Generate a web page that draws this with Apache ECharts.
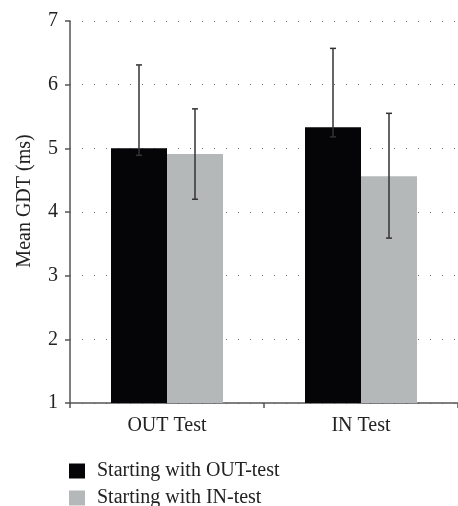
<!DOCTYPE html>
<html>
<head>
<meta charset="utf-8">
<script src="https://cdn.jsdelivr.net/npm/echarts@6/dist/echarts.min.js"></script>
<style>html,body{margin:0;padding:0;background:#fff;}#c{width:458px;height:506px;}</style>
</head>
<body>
<div id="c"></div>
<script>
var categories = ['OUT Test', 'IN Test'];
var seriesNames = ['Starting with OUT-test', 'Starting with IN-test'];
var outStartMean = [5.00, 5.33];
var outStartHigh = [6.31, 6.57];
var outStartLow = [4.89, 5.18];
var inStartMean = [4.91, 4.56];
var inStartHigh = [5.62, 5.55];
var inStartLow = [4.20, 3.59];
var yTicks = [1, 2, 3, 4, 5, 6, 7];

var FONT = 'Liberation Serif';
var colors = ['#050508', '#b4b8b8'];
var BAR_W = 56;

function errData(low, high, s) {
  return categories.map(function (c, i) { return [i, low[i], high[i], s]; });
}

function renderErr(params, api) {
  var idx = api.value(0);
  var s = api.value(3);
  var lo = api.coord([idx, api.value(1)]);
  var hi = api.coord([idx, api.value(2)]);
  var off = (s === 0 ? -1 : 1) * BAR_W / 2;
  var x = lo[0] + off;
  var cap = 3;
  var st = { stroke: '#333', lineWidth: 1.5 };
  return {
    type: 'group',
    children: [
      { type: 'line', shape: { x1: x, y1: hi[1], x2: x, y2: lo[1] }, style: st },
      { type: 'line', shape: { x1: x - cap, y1: hi[1], x2: x + cap, y2: hi[1] }, style: st },
      { type: 'line', shape: { x1: x - cap, y1: lo[1], x2: x + cap, y2: lo[1] }, style: st }
    ]
  };
}

function legendAt(name, top) {
  return {
    orient: 'vertical', left: 69, top: top, padding: 0,
    itemWidth: 16, itemHeight: 15,
    icon: 'rect',
    data: [name],
    textStyle: { fontFamily: FONT, fontSize: 20, color: '#222', lineHeight: 15, padding: [0, 0, 0, 7] }
  };
}

var chart = echarts.init(document.getElementById('c'));
chart.setOption({
  animation: false,
  backgroundColor: '#fff',
  grid: { left: 70, right: -4, top: 21, bottom: 103, containLabel: false },
  legend: [legendAt(seriesNames[0], 461), legendAt(seriesNames[1], 488)],
  xAxis: {
    type: 'category',
    data: categories,
    axisLine: { lineStyle: { color: '#555', width: 1.5 } },
    axisTick: { show: true, length: 5, interval: 0, lineStyle: { color: '#555', width: 1.5 } },
    axisLabel: { fontFamily: FONT, fontSize: 20, color: '#222', margin: 13 }
  },
  yAxis: {
    type: 'value',
    min: 1, max: 7, interval: 1,
    name: 'Mean GDT (ms)',
    nameLocation: 'middle',
    nameGap: 35,
    nameTextStyle: { fontFamily: FONT, fontSize: 20, color: '#222', padding: [0, 0, 0, 22] },
    axisLine: { show: true, lineStyle: { color: '#555', width: 1.5 } },
    axisTick: { show: true, length: 5, lineStyle: { color: '#555', width: 1.5 } },
    axisLabel: { fontFamily: FONT, fontSize: 20, color: '#222', margin: 12,
      formatter: function (v) { return yTicks.indexOf(v) >= 0 ? String(v) : ''; } },
    splitLine: { show: true, lineStyle: { color: '#777', type: [1, 11], width: 1 } }
  },
  series: [
    { name: seriesNames[0], type: 'bar', data: outStartMean, barWidth: BAR_W, barGap: '0%',
      itemStyle: { color: colors[0] } },
    { name: seriesNames[1], type: 'bar', data: inStartMean, barWidth: BAR_W, barGap: '0%',
      itemStyle: { color: colors[1] } },
    { type: 'custom', renderItem: renderErr, data: errData(outStartLow, outStartHigh, 0), z: 10,
      encode: { x: 0, y: [1, 2] } },
    { type: 'custom', renderItem: renderErr, data: errData(inStartLow, inStartHigh, 1), z: 10,
      encode: { x: 0, y: [1, 2] } }
  ]
});
</script>
</body>
</html>
